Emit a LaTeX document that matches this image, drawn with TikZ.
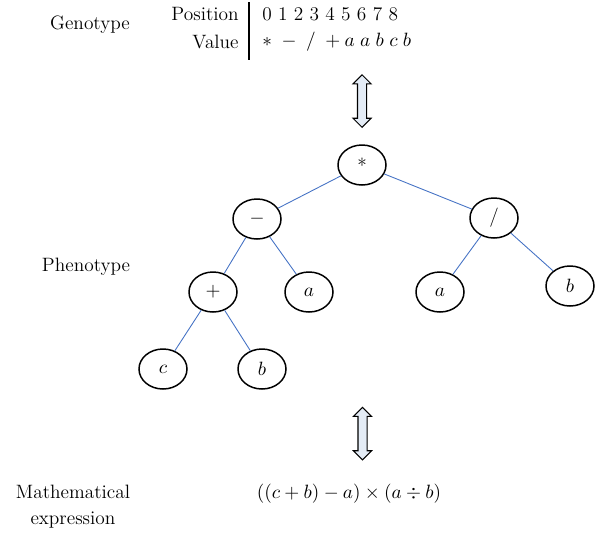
\documentclass[tikz,border=0pt]{standalone}
\usetikzlibrary{shapes.geometric,shapes.arrows}

\definecolor{edgeblue}{RGB}{68,114,196}
\definecolor{arrowfill}{RGB}{228,236,246}

\tikzset{
  treenode/.style={draw, ellipse, line width=0.85pt, minimum width=0.96cm, minimum height=0.8cm, inner sep=0pt},
  treeedge/.style={edgeblue, line width=0.5pt},
  maparrow/.style={draw, double arrow, fill=arrowfill, line width=0.6pt, rotate=90, inner sep=0.08cm,
    double arrow head extend=0.09cm, minimum height=1.05cm},
  rowtext/.style={inner sep=0pt}
}

\begin{document}
\begin{tikzpicture}[font=\fontsize{11}{13.5}\selectfont]
  \useasboundingbox (0,0) rectangle (12.1,-10.7);

  % Genotype: position and value rows
  \node (genolabel) at (1.8,-0.5) {Genotype};
  \node[rowtext, anchor=east] (poslabel) at (4.78,-0.28) {Position};
  \node[rowtext, anchor=east] (vallabel) at (4.78,-0.84) {Value};
  \node[rowtext, anchor=west] (posrow) at (5.24,-0.28) {0 1 2 3 4 5 6 7 8};
  \node[rowtext, anchor=west] (valrow) at (5.24,-0.84) {$*\;-\;/\;+a\;a\;b\;c\;b$};
  \draw[line width=0.7pt] (4.98,-0.04) -- (4.98,-1.2);

  % Mapping genotype <-> phenotype
  \node[maparrow] (genoarrow) at (7.24,-2.02) {};

  % Phenotype: expression tree
  \node (phenolabel) at (1.72,-5.34) {Phenotype};
  \node[treenode] (root) at (7.24,-3.30) {*};
  \node[treenode] (minus) at (5.14,-4.38) {$-$};
  \node[treenode] (slash) at (9.88,-4.36) {/};
  \node[treenode] (plus) at (4.26,-5.84) {$+$};
  \node[treenode] (aleft) at (6.18,-5.84) {$a$};
  \node[treenode] (aright) at (8.80,-5.84) {$a$};
  \node[treenode] (bright) at (11.40,-5.72) {$b$};
  \node[treenode] (cleaf) at (3.26,-7.38) {$c$};
  \node[treenode] (bleaf) at (5.24,-7.38) {$b$};

  \draw[treeedge] (root) -- (minus);
  \draw[treeedge] (root) -- (slash);
  \draw[treeedge] (minus) -- (plus);
  \draw[treeedge] (minus) -- (aleft);
  \draw[treeedge] (slash) -- (aright);
  \draw[treeedge] (slash) -- (bright);
  \draw[treeedge] (plus) -- (cleaf);
  \draw[treeedge] (plus) -- (bleaf);

  % Mapping phenotype <-> expression
  \node[maparrow] (exprarrow) at (7.25,-8.67) {};

  % Mathematical expression
  \node[align=center] (exprlabel) at (1.46,-10.13) {Mathematical\\[1pt]expression};
  \node (expr) at (6.98,-9.88) {$((c+b)-a)\times(a\div b)$};
\end{tikzpicture}
\end{document}
